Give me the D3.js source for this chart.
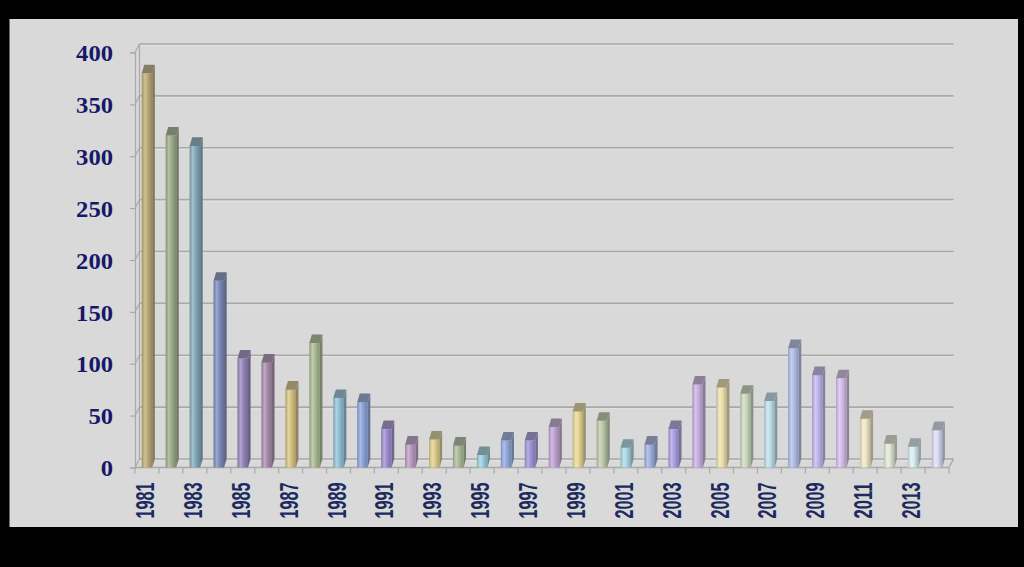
<!DOCTYPE html>
<html>
<head>
<meta charset="utf-8">
<script src="https://cdn.jsdelivr.net/npm/d3@7"></script>
<style>
  html, body { margin: 0; padding: 0; background: #000; }
  svg { display: block; }
</style>
</head>
<body>
<svg id="chart" width="1024" height="567"></svg>
<script>
const years = [1981,1982,1983,1984,1985,1986,1987,1988,1989,1990,1991,1992,1993,1994,1995,1996,1997,
               1998,1999,2000,2001,2002,2003,2004,2005,2006,2007,2008,2009,2010,2011,2012,2013,2014];
const values = [380,320,310,180,105,101,75,120,67,63,37,22,27,21,12,26,26,
                39,54,45,19,22,37,80,77,71,64,115,89,86,47,23,20,36];
const barColors = ["#bcaa74","#9cac88","#80aabb","#7a88bc","#9284bc","#a88aac",
                   "#d6c27e","#a9ba90","#8ec2d6","#8aa2da","#9c8ad0","#bc98c4",
                   "#decf88","#abbb96","#9acde0","#90a8de","#9e92da","#c2a2d6",
                   "#e8d994","#bdcba8","#aad9e8","#9aaee0","#aa9ee2","#caaee2",
                   "#eee1aa","#ccd9bc","#bde1ec","#b0bdea","#c2b6ee","#d6bdea",
                   "#f1e8c6","#e2e9d8","#d8eef4","#d9ddf5"];
const yTicks = [0,50,100,150,200,250,300,350,400];
const xLabelYears = years.filter(y => y % 2 === 1);

const svg = d3.select("#chart");
svg.append("rect").attr("x",9.5).attr("y",19).attr("width",1008.5).attr("height",508).attr("fill","#d9d9d9");

const x = d3.scaleBand().domain(years).range([135, 949]).paddingInner(0).paddingOuter(0);
const y = d3.scaleLinear().domain([0,400]).range([467.5, 52.5]);
const DX = 4.5, DY = -8.5;
const BDX = 2.6, BDY = -8.6;
const frontL = 135, frontR = 949;

const frame = svg.append("g");
const gridCol = "#a9a9a9";
frame.selectAll("line.grid").data(yTicks).join("line")
  .attr("class","grid")
  .attr("x1", frontL + DX).attr("x2", frontR + DX)
  .attr("y1", d => y(d) + DY).attr("y2", d => y(d) + DY)
  .attr("stroke", gridCol).attr("stroke-width", 1.6);
frame.selectAll("line.gridl").data(yTicks).join("line")
  .attr("class","gridl")
  .attr("x1", frontL + DX).attr("x2", frontR + DX)
  .attr("y1", d => y(d) + DY + 1.6).attr("y2", d => y(d) + DY + 1.6)
  .attr("stroke", "#e2e2e2").attr("stroke-width", 1);
frame.selectAll("line.conn").data(yTicks).join("line")
  .attr("class","conn")
  .attr("x1", frontL).attr("x2", frontL + DX)
  .attr("y1", d => y(d)).attr("y2", d => y(d) + DY)
  .attr("stroke", gridCol).attr("stroke-width", 1.2);
frame.append("line").attr("x1", frontL + DX).attr("x2", frontL + DX)
  .attr("y1", y(400) + DY).attr("y2", y(0) + DY).attr("stroke", gridCol).attr("stroke-width", 1.2);
frame.append("line").attr("x1", frontL).attr("x2", frontR)
  .attr("y1", y(0)).attr("y2", y(0)).attr("stroke", gridCol).attr("stroke-width", 1.6);
frame.append("line").attr("x1", frontR).attr("x2", frontR + DX)
  .attr("y1", y(0)).attr("y2", y(0) + DY).attr("stroke", gridCol).attr("stroke-width", 1.4);

const yAxis = d3.axisLeft(y).tickValues(yTicks).tickSize(5).tickPadding(17);
const gy = svg.append("g").attr("transform", `translate(${frontL},0)`).call(yAxis);
gy.select(".domain").attr("stroke", gridCol).attr("stroke-width", 1.2);
gy.selectAll(".tick line").attr("stroke", gridCol).attr("stroke-width", 1.2);
gy.selectAll(".tick text")
  .attr("font-family", "'Liberation Serif', 'DejaVu Serif', serif")
  .attr("font-weight", "bold").attr("font-size", 24).attr("fill", "#17186a")
  .attr("dy", "0.34em")
  .attr("textLength", d => String(d).length * 12.3)
  .attr("lengthAdjust", "spacingAndGlyphs");

const bounds = years.map(d => x(d)).concat([frontR]);
svg.append("g").selectAll("line").data(bounds).join("line")
  .attr("x1", d => d).attr("x2", d => d)
  .attr("y1", y(0)).attr("y2", y(0) + 6)
  .attr("stroke", gridCol).attr("stroke-width", 1.2);

const xAxis = d3.axisBottom(x).tickValues(xLabelYears).tickSize(0).tickPadding(0);
const gx = svg.append("g").attr("transform", `translate(0,${y(0)})`).call(xAxis);
gx.select(".domain").remove();
gx.selectAll(".tick text")
  .attr("font-family", "'Liberation Sans', Arial, sans-serif")
  .attr("font-weight", "bold").attr("font-size", 25).attr("fill", "#1c2b5e")
  .attr("text-anchor", "end")
  .attr("transform", "translate(7,15) rotate(-90)")
  .attr("x", 0).attr("y", 0).attr("dy", 0)
  .attr("textLength", 36).attr("lengthAdjust", "spacingAndGlyphs");

const defs = svg.append("defs");
years.forEach((yr, i) => {
  const base = d3.color(barColors[i]);
  const g = defs.append("linearGradient").attr("id", "g" + i)
    .attr("x1", "0").attr("x2", "1").attr("y1", "0").attr("y2", "0");
  g.append("stop").attr("offset", "0").attr("stop-color", d3.interpolateRgb(base, "#404040")(0.25));
  g.append("stop").attr("offset", "0.3").attr("stop-color", d3.interpolateRgb(base, "#ffffff")(0.28));
  g.append("stop").attr("offset", "0.55").attr("stop-color", base.formatHex());
  g.append("stop").attr("offset", "1").attr("stop-color", d3.interpolateRgb(base, "#303030")(0.3));
});

const bw = x.bandwidth() * 0.44;
const bars = svg.append("g").selectAll("g").data(years).join("g");
bars.each(function(yr, i) {
  const gsel = d3.select(this);
  const v = values[i];
  const xf = x(yr) + (x.bandwidth() - bw) / 2;
  const yt = y(v), yb = y(0);
  const base = d3.color(barColors[i]);
  gsel.append("polygon")
    .attr("points", [[xf+bw, yt],[xf+bw+BDX, yt+BDY],[xf+bw+BDX, yb+BDY],[xf+bw, yb]].map(p => p.join(",")).join(" "))
    .attr("fill", d3.interpolateRgb(base, "#3a3a3a")(0.45));
  gsel.append("rect").attr("x", xf).attr("y", yt).attr("width", bw).attr("height", yb - yt)
    .attr("fill", `url(#g${i})`);
  gsel.append("polygon")
    .attr("points", [[xf, yt],[xf+BDX, yt+BDY],[xf+bw+BDX, yt+BDY],[xf+bw, yt]].map(p => p.join(",")).join(" "))
    .attr("fill", d3.interpolateRgb(base, "#505050")(0.5));
});
</script>
</body>
</html>
